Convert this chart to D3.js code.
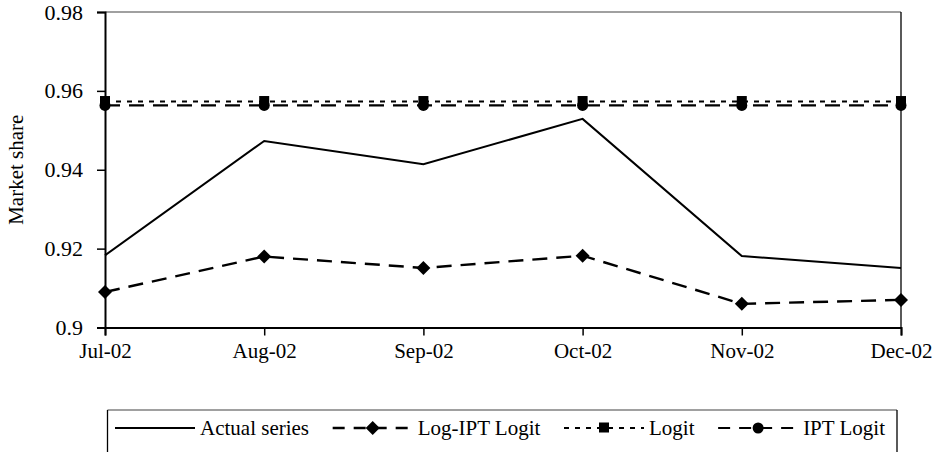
<!DOCTYPE html>
<html>
<head>
<meta charset="utf-8">
<script src="https://cdn.jsdelivr.net/npm/d3@7"></script>
<style>
  body { margin: 0; background: #fff; }
  text { font-family: "Times New Roman", "Liberation Serif", serif; fill: #000; }
</style>
</head>
<body>
<script>
// chart data
const months = ["Jul-02", "Aug-02", "Sep-02", "Oct-02", "Nov-02", "Dec-02"];
const actualSeries = [0.9183, 0.9473, 0.9414, 0.9529, 0.9181, 0.9151];
const logIptLogit = [0.9090, 0.9180, 0.9151, 0.9182, 0.9060, 0.9070];
const logit = [0.9573, 0.9573, 0.9573, 0.9573, 0.9573, 0.9573];
const iptLogit = [0.9563, 0.9563, 0.9563, 0.9563, 0.9563, 0.9563];
const yTicks = [0.9, 0.92, 0.94, 0.96, 0.98];
const seriesNames = ["Actual series", "Log-IPT Logit", "Logit", "IPT Logit"];

let opts = { width: 937, height: 452, left: 105, right: 901, top: 12, bottom: 327.5 };

let svg = d3.select("body").append("svg")
    .attr("width", opts.width)
    .attr("height", opts.height);

let x = d3.scalePoint().domain(months).range([opts.left, opts.right]);
let y = d3.scaleLinear().domain([0.9, 0.98]).range([opts.bottom, opts.top]);

// series styles
let styles = [
    { values: actualSeries, dash: null, width: 2, marker: null },
    { values: logIptLogit, dash: "15,9", width: 2.4, marker: "diamond" },
    { values: logit, dash: "5,6", width: 2, marker: "square" },
    { values: iptLogit, dash: "15,9", width: 2.2, marker: "circle" }
];

// frame: top grey line, right black line
svg.append("line").attr("x1", opts.left).attr("x2", opts.right)
    .attr("y1", opts.top).attr("y2", opts.top)
    .attr("stroke", "#808080").attr("stroke-width", 1.3);
svg.append("line").attr("x1", opts.right).attr("x2", opts.right)
    .attr("y1", opts.top).attr("y2", opts.bottom)
    .attr("stroke", "#000").attr("stroke-width", 1.3);

// axes
let yAxis = svg.append("g")
    .attr("transform", `translate(${opts.left},0)`)
    .call(d3.axisLeft(y).tickValues(yTicks).tickFormat(d => String(d)).tickSizeOuter(0).tickSize(8).tickPadding(14));
let xAxis = svg.append("g")
    .attr("transform", `translate(0,${opts.bottom})`)
    .call(d3.axisBottom(x).tickSizeOuter(0).tickSize(8).tickPadding(8));

[yAxis, xAxis].forEach(g => {
    g.attr("font-family", null);
    g.select(".domain").attr("stroke", "#000").attr("stroke-width", 2);
    g.selectAll(".tick line").attr("stroke", "#000").attr("stroke-width", 1.5);
    g.selectAll("text").attr("font-size", 21);
});
yAxis.selectAll("text").attr("font-size", 22);

svg.append("text")
    .attr("transform", `translate(23,${(opts.top + opts.bottom) / 2}) rotate(-90)`)
    .attr("text-anchor", "middle")
    .attr("font-size", 21)
    .text("Market share");

// draws a marker symbol
function drawMarker(g, type, cx, cy) {
    if (type === "diamond") {
        g.append("path").attr("d", `M${cx},${cy - 7}L${cx + 7},${cy}L${cx},${cy + 7}L${cx - 7},${cy}Z`);
    } else if (type === "square") {
        g.append("rect").attr("x", cx - 5).attr("y", cy - 5.5).attr("width", 10).attr("height", 10);
    } else if (type === "circle") {
        g.append("circle").attr("cx", cx).attr("cy", cy).attr("r", 5.5);
    }
}

let line = d3.line().x((d, i) => x(months[i])).y(d => y(d));

// lines then markers
styles.forEach(s => {
    svg.append("path")
        .attr("d", line(s.values))
        .attr("fill", "none")
        .attr("stroke", "#000")
        .attr("stroke-width", s.width)
        .attr("stroke-dasharray", s.dash);
});
styles.forEach(s => {
    if (!s.marker) return;
    let g = svg.append("g").attr("fill", "#000");
    s.values.forEach((v, i) => drawMarker(g, s.marker, x(months[i]), y(v)));
});

// legend
let legend = svg.append("g");
legend.append("line").attr("x1", 107.5).attr("x2", 897).attr("y1", 410).attr("y2", 410)
    .attr("stroke", "#808080").attr("stroke-width", 1.5);
legend.append("line").attr("x1", 107.5).attr("x2", 107.5).attr("y1", 410).attr("y2", 460)
    .attr("stroke", "#000").attr("stroke-width", 1.3);
legend.append("line").attr("x1", 897).attr("x2", 897).attr("y1", 410).attr("y2", 460)
    .attr("stroke", "#000").attr("stroke-width", 1.3);

let lineLen = 80, ly = 428;
let texts = seriesNames.map(n => legend.append("text").attr("font-size", 21).attr("y", ly + 7).text(n));
let widths = texts.map(t => t.node().getComputedTextLength());
let used = d3.sum(widths) + seriesNames.length * (lineLen + 5);
let gap = (885 - 115 - used) / (seriesNames.length - 1);
let cx = 115;
styles.forEach((s, i) => {
    legend.append("line").attr("x1", cx).attr("x2", cx + lineLen).attr("y1", ly).attr("y2", ly)
        .attr("stroke", "#000").attr("stroke-width", s.width)
        .attr("stroke-dasharray", s.dash ? (s.marker === "square" ? "5,6" : "12,9") : null);
    if (s.marker) drawMarker(legend.append("g").attr("fill", "#000"), s.marker, cx + lineLen / 2, ly);
    texts[i].attr("x", cx + lineLen + 5);
    cx += lineLen + 5 + widths[i] + gap;
});
</script>
</body>
</html>
